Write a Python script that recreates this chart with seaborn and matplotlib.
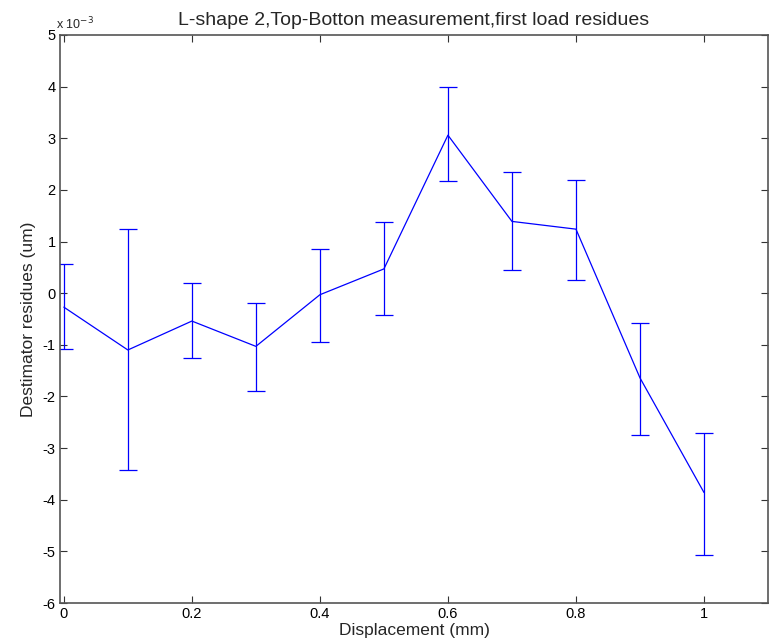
import numpy as np
import matplotlib
matplotlib.use("Agg")
import matplotlib.pyplot as plt
import seaborn as sns

# values (y in units of 1e-3 um)
displacement = [0.0, 0.1, 0.2, 0.3, 0.4, 0.5, 0.6, 0.7, 0.8, 0.9, 1.0]
residue_mean = [-0.27, -1.10, -0.54, -1.03, -0.03, 0.47, 3.06, 1.39, 1.24, -1.64, -3.86]
residue_upper = [0.56, 1.24, 0.19, -0.19, 0.85, 1.38, 3.99, 2.34, 2.19, -0.57, -2.70]
residue_lower = [-1.08, -3.42, -1.26, -1.89, -0.94, -0.43, 2.17, 0.45, 0.26, -2.75, -5.08]

yticks = [-6, -5, -4, -3, -2, -1, 0, 1, 2, 3, 4, 5]
xticks = [0, 0.2, 0.4, 0.6, 0.8, 1]

sns.set_style("ticks")
plt.rcParams['font.family'] = ['Liberation Sans', 'DejaVu Sans']

fig = plt.figure(figsize=(7.71, 6.43), dpi=100)
ax = fig.add_axes([60 / 771, 1 - 603 / 643, 708 / 771, 568 / 643])

mean = np.array(residue_mean)
err = [mean - np.array(residue_lower), np.array(residue_upper) - mean]

sns.lineplot(x=displacement, y=residue_mean, color="#0000ff", linewidth=0.9, ax=ax)
ax.errorbar(displacement, residue_mean, yerr=err, fmt="none", ecolor="#0000ff",
            elinewidth=0.9, capsize=6.5, capthick=0.9)

ax.set_xlim(-0.006, 1.1)
ax.set_ylim(-6, 5)
ax.set_xticks(xticks)
ax.set_xticklabels([f"{t:g}" for t in xticks])
ax.set_yticks(yticks)
ax.set_yticklabels([str(t) for t in yticks])

ax.tick_params(direction="in", length=5, width=0.8, top=True, right=True,
               labelsize=10.5, colors="#333333", labelcolor="black", pad=3)
for s in ax.spines.values():
    s.set_visible(True)
    s.set_color("#555555")
    s.set_linewidth(1.2)

ax.set_title("L-shape 2,Top-Botton measurement,first load residues", fontsize=14, pad=7)
ax.set_xlabel("Displacement (mm)", fontsize=12.5, labelpad=1)
ax.set_ylabel("Destimator residues (um)", fontsize=12.5, labelpad=5)
ax.text(-0.005, 1.004, r"x 10$^{-3}$", transform=ax.transAxes, fontsize=9, va="bottom", ha="left")

fig.savefig("out.png", dpi=100)
